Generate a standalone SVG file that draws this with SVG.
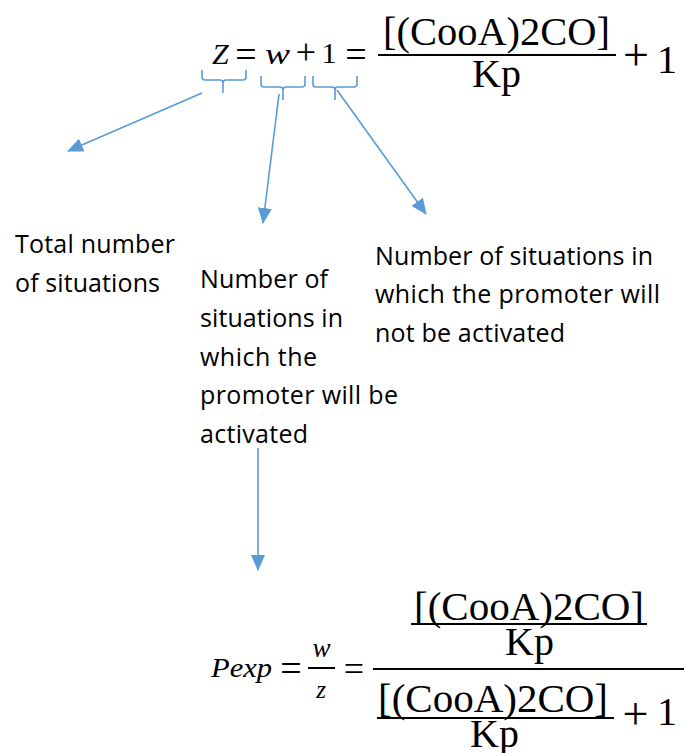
<svg xmlns="http://www.w3.org/2000/svg" width="684" height="753" viewBox="0 0 684 753">
<style>
.m{font-family:"Liberation Serif","Times New Roman",serif;fill:#000}
.mi{font-family:"Liberation Serif","Times New Roman",serif;font-style:italic;fill:#000}
.t{font-family:"Open Sans","Liberation Sans",sans-serif;font-size:25px;fill:#000}
.c{text-anchor:middle}
.bar{fill:#000}
.conn{stroke:#5B9BD5;stroke-width:1.6;fill:none}
.brace{stroke:#5B9BD5;stroke-width:1.6;fill:none}
</style>
<defs>
<marker id="ah" viewBox="0 0 16 14" refX="15" refY="7" markerWidth="16" markerHeight="14" markerUnits="userSpaceOnUse" orient="auto">
<path d="M0,0 L16,7 L0,14 z" fill="#5B9BD5"/>
</marker>
</defs>
<rect width="684" height="753" fill="#fff"/>

<g id="eq-top">
<text class="mi" x="212" y="64" font-size="30">Z</text>
<text class="m c" x="246" y="67" font-size="38">=</text>
<text class="mi" x="265" y="64" font-size="30" textLength="25" lengthAdjust="spacingAndGlyphs">w</text>
<text class="m c" x="306" y="64" font-size="36">+</text>
<text class="m c" x="329" y="63" font-size="30">1</text>
<text class="m c" x="356" y="67" font-size="38">=</text>
<text class="m c" x="496.5" y="45" font-size="41" textLength="227" lengthAdjust="spacingAndGlyphs">[(CooA)2CO]</text>
<rect class="bar" x="378" y="54" width="238" height="2"/>
<text class="m c" x="496.5" y="87" font-size="40">Kp</text>
<text class="m c" x="636" y="70" font-size="46">+</text>
<text class="m c" x="667" y="73" font-size="40">1</text>
</g>

<g id="braces">
<path class="brace" d="M202,70 V77 Q202,80 205,80 H220 Q223,80 223,83 V93 M223,83 Q223,80 226,80 H243 Q246,80 246,77 V70"/>
<path class="brace" d="M261,76 V84 Q261,87 264,87 H280 Q283,87 283,90 V100 M283,90 Q283,87 286,87 H302 Q305,87 305,84 V76"/>
<path class="brace" d="M313,76 V84 Q313,87 316,87 H332 Q335,87 335,90 V100 M335,90 Q335,87 338,87 H354 Q357,87 357,84 V76"/>
</g>

<g id="label-total">
<text class="t" x="15" y="253" textLength="160">Total number</text>
<text class="t" x="15" y="292" textLength="145">of situations</text>
</g>

<g id="label-activated">
<text class="t" x="200" y="288" textLength="128">Number of</text>
<text class="t" x="200" y="327" textLength="143">situations in</text>
<text class="t" x="200" y="366" textLength="117">which the</text>
<text class="t" x="200" y="404" textLength="198">promoter will be</text>
<text class="t" x="200" y="443" textLength="108">activated</text>
</g>

<g id="label-not-activated">
<text class="t" x="375" y="265" textLength="278">Number of situations in</text>
<text class="t" x="375" y="303" textLength="285">which the promoter will</text>
<text class="t" x="375" y="342" textLength="190">not be activated</text>
</g>

<g id="eq-bottom">
<text class="mi" x="211" y="677" font-size="28" textLength="61" lengthAdjust="spacingAndGlyphs">Pexp</text>
<text class="m c" x="291" y="681" font-size="38">=</text>
<text class="mi c" x="321.5" y="657" font-size="27">w</text>
<rect class="bar" x="308" y="667" width="27" height="2"/>
<text class="mi c" x="321" y="698" font-size="25">z</text>
<text class="m c" x="354" y="681" font-size="36">=</text>
<rect class="bar" x="373" y="668" width="311" height="2"/>
<text class="m c" x="529" y="620" font-size="41" textLength="230" lengthAdjust="spacingAndGlyphs">[(CooA)2CO]</text>
<rect class="bar" x="411" y="623" width="236" height="2"/>
<text class="m c" x="529.5" y="655" font-size="40">Kp</text>
<text class="m c" x="493" y="712" font-size="41" textLength="230" lengthAdjust="spacingAndGlyphs">[(CooA)2CO]</text>
<rect class="bar" x="377" y="717" width="237" height="2"/>
<text class="m c" x="494.5" y="747" font-size="40">Kp</text>
<text class="m c" x="635.5" y="729" font-size="46">+</text>
<text class="m c" x="667" y="725" font-size="40">1</text>
</g>

<g id="connectors">
<line class="conn" x1="202" y1="93" x2="68" y2="151" marker-end="url(#ah)"/>
<line class="conn" x1="279" y1="94" x2="263" y2="223" marker-end="url(#ah)"/>
<line class="conn" x1="337" y1="90" x2="426" y2="214" marker-end="url(#ah)"/>
<line class="conn" x1="258" y1="448" x2="258" y2="570" marker-end="url(#ah)"/>
</g>
</svg>
